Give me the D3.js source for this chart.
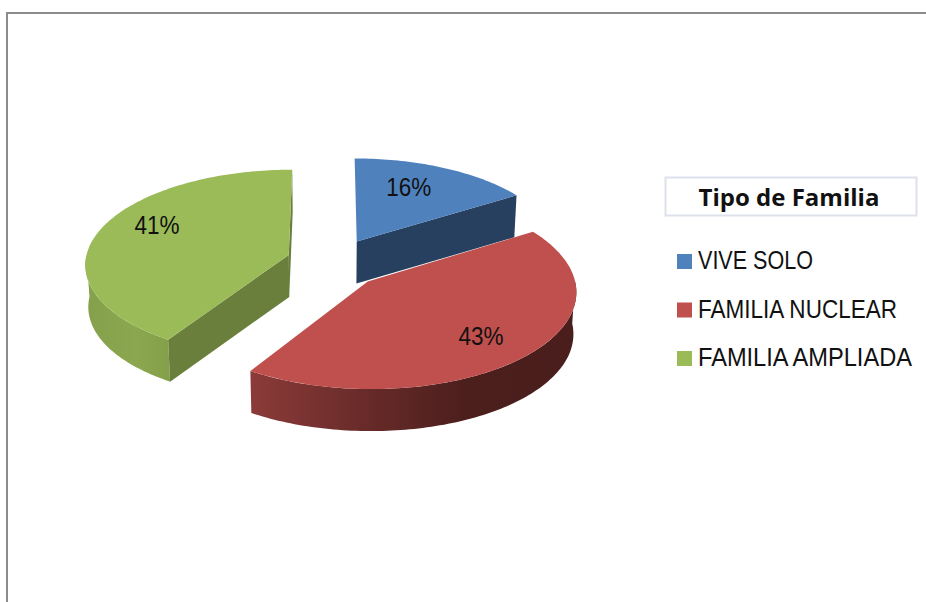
<!DOCTYPE html>
<html>
<head>
<meta charset="utf-8">
<script src="https://cdn.jsdelivr.net/npm/d3@7/dist/d3.min.js"></script>
<style>
  html, body { margin: 0; padding: 0; background: #fff; }
  svg { display: block; }
  text { font-family: "Liberation Sans", Arial, sans-serif; fill: #111; }
</style>
</head>
<body>
<div id="chart"></div>
<script>
var categories = ["VIVE SOLO", "FAMILIA NUCLEAR", "FAMILIA AMPLIADA"];
var values = [16, 43, 41];
var labels = ["16%", "43%", "41%"];
var legendTitle = "Tipo de Familia";

var topColors = ["#4f81bd", "#c0504d", "#9bbb59"];
var wallColors = ["#27405f", "#5e2523", "#6a7f3c"];

var width = 926, height = 602;

// 3d look: pie is drawn in a flat "world" and then tilted with a bit of perspective
var radius = 204, tilt = 0.463, persp = 0.09, depth = 42;
var cx = 331, cy = 264;

// how far each slice is pulled out, and in which direction (degrees, 0 = away from us)
var explode = [56, 52, 47];
var explodeDir = [28, 136, 295];

// where the % labels sit inside the slice
var labelRadius = [0.7, 0.735, 0.755];
var labelTurn = [-5, 1, 10];

// text widths of the legend entries in the picture
var legendWidths = [115, 199, 214];

var svg = d3.select("#chart").append("svg")
    .attr("width", width)
    .attr("height", height);

// frame
svg.append("path")
    .attr("d", "M7,602V13H926")
    .attr("fill", "none")
    .attr("stroke", "#8c8c8c")
    .attr("stroke-width", 2);

var defs = svg.append("defs");

function addGradient(id, stops) {
    var g = defs.append("linearGradient").attr("id", id);
    stops.forEach(function (s) {
        g.append("stop").attr("offset", s[0]).attr("stop-color", s[1]);
    });
}
addGradient("wall0", [[0, "#27405f"], [1, "#27405f"]]);
addGradient("wall1", [[0, "#8b3b39"], [0.35, "#682b29"], [0.65, "#4c1f1d"], [1, "#4a1e1c"]]);
addGradient("wall2", [[0, "#84a04b"], [0.6, "#8ba84f"], [1, "#83a04a"]]);

var pie = d3.pie().sort(null)
    .startAngle(0)
    .endAngle(2 * Math.PI);

var arcs = pie(values);

// world point -> screen point. z is how far down the wall we are (0..1)
function project(X, Y, z) {
    var s = 1 / (1 + persp * Y / radius);
    return [cx + X * s * (1 - 0.012 * z), cy - tilt * Y * s + depth * z];
}

function apex(i) {
    var dir = explodeDir[i] * Math.PI / 180;
    return [explode[i] * Math.sin(dir), explode[i] * Math.cos(dir)];
}

function rim(i, angle, z, r) {
    var a = apex(i);
    var rr = r === undefined ? radius : r;
    return project(a[0] + rr * Math.sin(angle), a[1] + rr * Math.cos(angle), z);
}

function angles(a0, a1) {
    var n = Math.ceil((a1 - a0) / 0.02);
    return d3.range(n + 1).map(function (k) { return a0 + (a1 - a0) * k / n; });
}

var line = d3.line();

function drawSlice(i) {
    var d = arcs[i];
    var g = svg.append("g").attr("class", "slice");
    var a = apex(i);
    var centreTop = project(a[0], a[1], 0);
    var centreBot = project(a[0], a[1], 1);

    // outer wall, only the part that faces us
    var w0 = Math.max(d.startAngle, Math.PI / 2);
    var w1 = Math.min(d.endAngle, 3 * Math.PI / 2);
    if (w1 > w0) {
        var ang = angles(w0, w1);
        var pts = ang.map(function (t) { return rim(i, t, 0); })
            .concat(ang.slice().reverse().map(function (t) { return rim(i, t, 1); }));
        g.append("path")
            .attr("d", line(pts) + "Z")
            .attr("fill", "url(#wall" + i + ")");
    }

    // flat cut walls, skip the ones turned away from us
    var cuts = [];
    if (Math.sin(d.startAngle) < -0.01) cuts.push(d.startAngle);
    if (Math.sin(d.endAngle) > -0.01) cuts.push(d.endAngle);
    cuts.forEach(function (t) {
        g.append("path")
            .attr("d", line([centreTop, rim(i, t, 0), rim(i, t, 1), centreBot]) + "Z")
            .attr("fill", wallColors[i]);
    });

    // top face
    var top = [centreTop].concat(angles(d.startAngle, d.endAngle).map(function (t) { return rim(i, t, 0); }));
    g.append("path")
        .attr("d", line(top) + "Z")
        .attr("fill", topColors[i]);
}

// back to front
[2, 0, 1].forEach(drawSlice);

// data labels
svg.selectAll("text.label")
    .data(arcs)
    .enter().append("text")
    .attr("class", "label")
    .attr("text-anchor", "middle")
    .attr("font-size", 25)
    .attr("transform", function (d, i) {
        var mid = (d.startAngle + d.endAngle) / 2 + labelTurn[i] * Math.PI / 180;
        var p = rim(i, mid, 0, radius * labelRadius[i]);
        return "translate(" + p[0] + "," + (p[1] + 9) + ") scale(0.9,1)";
    })
    .text(function (d, i) { return labels[i]; });

// legend
svg.append("rect")
    .attr("x", 665.5)
    .attr("y", 177.5)
    .attr("width", 251)
    .attr("height", 38)
    .attr("fill", "#fff")
    .attr("stroke", "#dde1ec")
    .attr("stroke-width", 2);

svg.append("text")
    .attr("x", 789)
    .attr("y", 206)
    .attr("text-anchor", "middle")
    .style("font-family", "'Open Sans', sans-serif")
    .style("font-weight", "bold")
    .attr("font-size", 24)
    .text(legendTitle);

var legendY = d3.scalePoint().domain(categories).range([261.5, 358.5]);

var legend = svg.selectAll("g.legend")
    .data(categories)
    .enter().append("g")
    .attr("class", "legend")
    .attr("transform", function (d) { return "translate(677," + legendY(d) + ")"; });

legend.append("rect")
    .attr("y", -7.5)
    .attr("width", 15)
    .attr("height", 15)
    .attr("fill", function (d, i) { return topColors[i]; });

legend.append("text")
    .attr("x", 21)
    .attr("y", 7.5)
    .attr("font-size", 25)
    .attr("textLength", function (d, i) { return legendWidths[i]; })
    .attr("lengthAdjust", "spacingAndGlyphs")
    .text(function (d) { return d; });
</script>
</body>
</html>
